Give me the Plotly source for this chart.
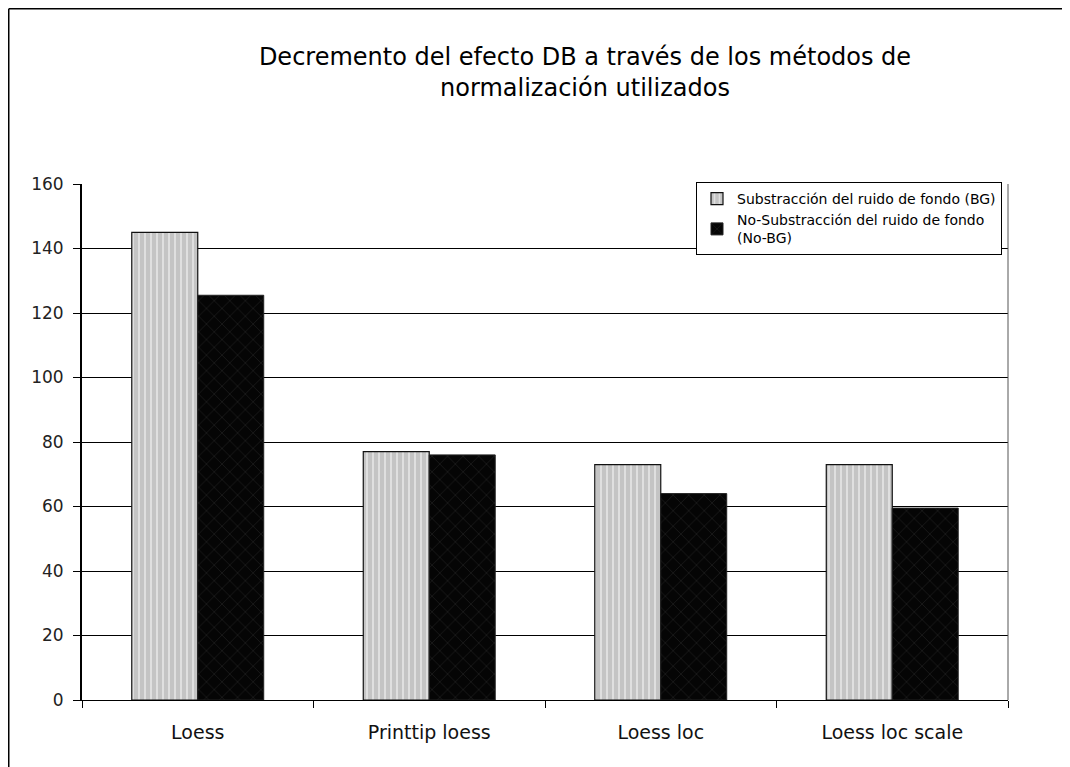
import plotly.graph_objects as go

categories = ["Loess", "Printtip loess", "Loess loc", "Loess loc scale"]
bg_values = [145, 77, 73, 73]
nobg_values = [125.5, 76, 64, 59.5]
series_names = ["Substracción del ruido de fondo (BG)",
                "No-Substracción del ruido de fondo<br>(No-BG)"]
y_ticks = [0, 20, 40, 60, 80, 100, 120, 140, 160]
title_text = "Decremento del efecto DB a través de los métodos de<br>normalización utilizados"

fig = go.Figure()
fig.add_trace(go.Bar(
    x=categories, y=bg_values, name=series_names[0],
    marker=dict(color="#c4c4c4",
                line=dict(color="#111111", width=1.2),
                pattern=dict(shape="|", fgcolor="#ffffff", bgcolor="#c4c4c4",
                             size=6, solidity=0.3, fillmode="overlay")),
))
fig.add_trace(go.Bar(
    x=categories, y=nobg_values, name=series_names[1],
    marker=dict(color="#050505",
                line=dict(color="#222222", width=1),
                pattern=dict(shape="x", fgcolor="#3c3c3c", bgcolor="#050505",
                             size=11, solidity=0.12, fillmode="overlay")),
))

# page body has an 8px margin, so figure coordinates = reference - 8
W, H = 1062, 759
L, R, T, B = 74, 62, 176, 67
PW, PH = W - L - R, H - T - B

def px_x(x):
    return (x - L) / PW

def px_y(y):
    return 1 - (y - T) / PH

fig.update_layout(
    width=W, height=H,
    margin=dict(l=L, r=R, t=T, b=B, autoexpand=False),
    paper_bgcolor="white", plot_bgcolor="white",
    barmode="group", bargap=0.43, bargroupgap=0,
    title=dict(text=title_text, x=577 / W, xanchor="center",
               y=1 - 57 / H, yanchor="middle",
               font=dict(family="DejaVu Sans", size=24, color="#000")),
    legend=dict(x=px_x(688), y=px_y(174), xanchor="left", yanchor="top",
                bgcolor="white", bordercolor="#000", borderwidth=1,
                font=dict(family="DejaVu Sans", size=14, color="#000"),
                itemwidth=30, tracegroupgap=2, traceorder="normal"),
    xaxis=dict(type="category", tickson="boundaries", ticks="outside", ticklen=7,
               tickcolor="#000", showline=True, linecolor="#000", linewidth=1,
               showgrid=False, ticklabelstandoff=15,
               tickfont=dict(family="DejaVu Sans", size=19, color="#111")),
    yaxis=dict(range=[0, 160], tickvals=y_ticks, ticks="outside", ticklen=7,
               tickcolor="#000", showline=True, linecolor="#000", linewidth=2,
               showgrid=True, gridcolor="#000", gridwidth=1.3, zeroline=False,
               ticklabelstandoff=6,
               tickfont=dict(family="DejaVu Sans", size=17, color="#222")),
    showlegend=True,
)

# outer chart border (top and left) and plot-area right edge
fig.add_shape(type="line", xref="paper", yref="paper",
              x0=px_x(0.75), x1=px_x(W),
              y0=px_y(0.75), y1=px_y(0.75),
              line=dict(color="#000", width=1.5))
fig.add_shape(type="line", xref="paper", yref="paper",
              x0=px_x(0.75), x1=px_x(0.75),
              y0=px_y(H), y1=px_y(0.75),
              line=dict(color="#000", width=1.5))
fig.add_shape(type="line", xref="paper", yref="paper",
              x0=1, x1=1, y0=0, y1=1,
              line=dict(color="#555", width=1))

fig.write_html("out.html")
